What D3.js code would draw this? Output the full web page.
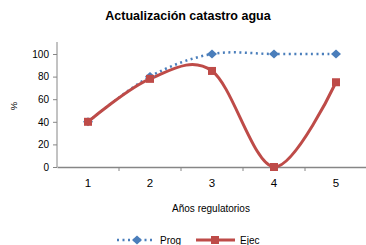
<!DOCTYPE html>
<html>
<head>
<meta charset="utf-8">
<script src="https://cdn.jsdelivr.net/npm/d3@7"></script>
<style>
body { margin: 0; background: #fff; }
text { font-family: "Liberation Sans", Arial, sans-serif; fill: #000; }
</style>
</head>
<body>
<svg id="wykres"></svg>
<script>
// dane z wykresu
let anios = ['1', '2', '3', '4', '5'];
let prog = [40, 80, 100, 100, 100];
let ejec = [40, 78, 85, 0, 75];
let yTicks = [0, 20, 40, 60, 80, 100];

let W = 366, H = 245;
let svg = d3.select('#wykres').attr('width', W).attr('height', H);

let x = d3.scaleBand().domain(anios).range([57, 367]);
let y = d3.scaleLinear().domain([0, 100]).range([167, 54]);
let cx = d => x(d) + x.bandwidth() / 2;

// tytuł
svg.append('text').attr('x', 188).attr('y', 20).attr('text-anchor', 'middle')
	.style('font-size', '12.5px').style('font-weight', 'bold')
	.text('Actualización catastro agua');

// oś Y
let yAxis = d3.axisLeft(y).tickValues(yTicks).tickSize(4).tickPadding(4);
let gy = svg.append('g').attr('transform', 'translate(57,0)').call(yAxis);
gy.select('.domain').attr('stroke', '#868686').attr('d', 'M0,' + (y(100) - 12) + 'V' + y(0));
gy.selectAll('line').attr('stroke', '#868686');
gy.selectAll('text').style('font-size', '10px');

// oś X
let xAxis = d3.axisBottom(x).tickSize(0).tickPadding(12);
let gx = svg.append('g').attr('transform', 'translate(0,167)').call(xAxis);
gx.select('.domain').attr('stroke', '#868686').attr('stroke-width', 1.5);
gx.selectAll('text').style('font-size', '11.5px');
gx.selectAll('.sep').data(anios.slice(1)).enter().append('line')
	.attr('x1', d => x(d)).attr('x2', d => x(d))
	.attr('y1', 0).attr('y2', 4).attr('stroke', '#868686');

svg.append('text').attr('x', 211).attr('y', 212).attr('text-anchor', 'middle')
	.style('font-size', '10px').text('Años regulatorios');

svg.append('text').attr('transform', 'translate(17,106) rotate(-90)')
	.attr('text-anchor', 'middle').style('font-size', '9.5px').text('%');

// linie
let line = d3.line()
	.x((d, i) => cx(anios[i]))
	.y(d => y(d))
	.curve(d3.curveCardinal.tension(0));

svg.append('path').datum(prog).attr('d', line)
	.attr('fill', 'none').attr('stroke', '#4a7ebb')
	.attr('stroke-width', 2.5).attr('stroke-dasharray', '2,3.5');

svg.append('path').datum(ejec).attr('d', line)
	.attr('fill', 'none').attr('stroke', '#be4b48').attr('stroke-width', 3);

let romb = 'M-5,0L0,-4.5L5,0L0,4.5Z';
svg.selectAll('.prog').data(prog).enter().append('path')
	.attr('transform', (d, i) => 'translate(' + cx(anios[i]) + ',' + y(d) + ')')
	.attr('d', romb).attr('fill', '#4a7ebb');

svg.selectAll('.ejec').data(ejec).enter().append('rect')
	.attr('x', (d, i) => cx(anios[i]) - 4).attr('y', d => y(d) - 4)
	.attr('width', 8).attr('height', 8).attr('fill', '#be4b48');

// legenda
let lg = svg.append('g');
lg.append('line').attr('x1', 117).attr('x2', 153).attr('y1', 240).attr('y2', 240)
	.attr('stroke', '#4a7ebb').attr('stroke-width', 2.5).attr('stroke-dasharray', '2,3.5');
lg.append('path').attr('transform', 'translate(137,240)').attr('d', romb).attr('fill', '#4a7ebb');
lg.append('text').attr('x', 160).attr('y', 244).style('font-size', '10px').text('Prog');

lg.append('line').attr('x1', 196).attr('x2', 235).attr('y1', 240).attr('y2', 240)
	.attr('stroke', '#be4b48').attr('stroke-width', 3);
lg.append('rect').attr('x', 211).attr('y', 236).attr('width', 8).attr('height', 8).attr('fill', '#be4b48');
lg.append('text').attr('x', 240).attr('y', 244).style('font-size', '10px').text('Ejec');
</script>
</body>
</html>
